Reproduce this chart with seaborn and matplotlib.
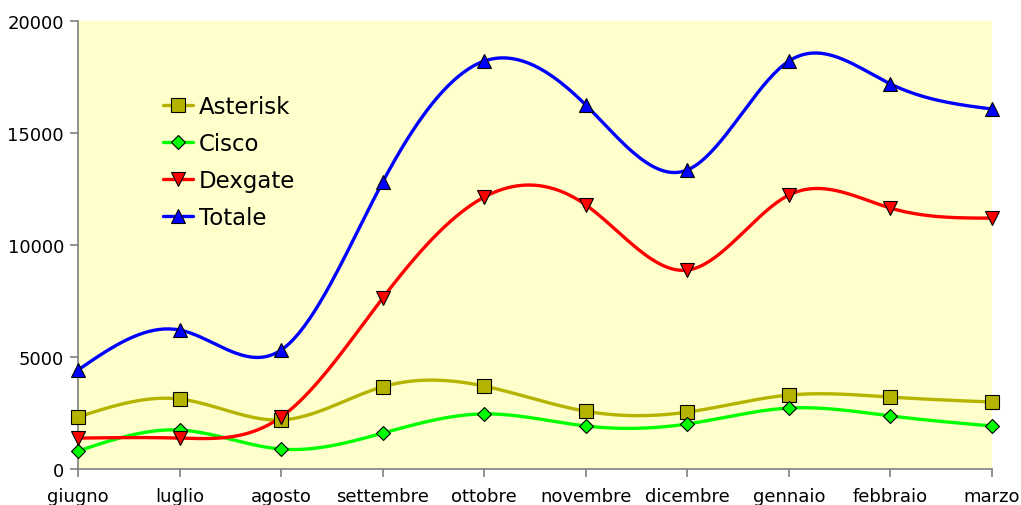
import numpy as np
import pandas as pd
import matplotlib
matplotlib.use("Agg")
import matplotlib.pyplot as plt
from matplotlib.lines import Line2D
import seaborn as sns

months = ["giugno", "luglio", "agosto", "settembre", "ottobre",
          "novembre", "dicembre", "gennaio", "febbraio", "marzo"]
asterisk = [2320, 3125, 2190, 3670, 3700, 2580, 2540, 3300, 3210, 2990]
cisco = [800, 1740, 890, 1600, 2460, 1920, 2010, 2720, 2370, 1920]
dexgate = [1380, 1380, 2320, 7630, 12140, 11790, 8880, 12230, 11650, 11200]
totale = [4420, 6205, 5310, 12810, 18210, 16250, 13350, 18210, 17190, 16070]
yticks = [0, 5000, 10000, 15000, 20000]

series = [
    ("Asterisk", asterisk, "#B4B400", "s", 9.5),
    ("Cisco", cisco, "#00FF00", "D", 7.5),
    ("Dexgate", dexgate, "#FF0000", "v", 10),
    ("Totale", totale, "#0000FF", "^", 10),
]


def smooth(xs, ys, n=40):
    """Natural cubic spline through the points (for drawing the line only)."""
    x = np.asarray(xs, float)
    y = np.asarray(ys, float)
    m = len(x)
    h = np.diff(x)
    A = np.zeros((m, m))
    b = np.zeros(m)
    A[0, 0] = 1.0
    A[-1, -1] = 1.0
    for i in range(1, m - 1):
        A[i, i - 1] = h[i - 1]
        A[i, i] = 2 * (h[i - 1] + h[i])
        A[i, i + 1] = h[i]
        b[i] = 6 * ((y[i + 1] - y[i]) / h[i] - (y[i] - y[i - 1]) / h[i - 1])
    M = np.linalg.solve(A, b)
    xo, yo = [], []
    for i in range(m - 1):
        t = np.linspace(x[i], x[i + 1], n)
        if i > 0:
            t = t[1:]
        a = x[i + 1] - t
        c = t - x[i]
        s = (M[i] * a ** 3 / (6 * h[i]) + M[i + 1] * c ** 3 / (6 * h[i])
             + (y[i] / h[i] - M[i] * h[i] / 6) * a
             + (y[i + 1] / h[i] - M[i + 1] * h[i] / 6) * c)
        xo.append(t)
        yo.append(s)
    return np.concatenate(xo), np.concatenate(yo)


sns.set_style("white")
plt.rcParams["font.family"] = ["DejaVu Sans"]

fig = plt.figure(figsize=(10.21, 5.06), dpi=100)
ax = fig.add_axes([78 / 1021, 36 / 506, (992 - 78) / 1021, (470 - 22) / 506])
ax.set_facecolor("#FFFFCC")

xi = np.arange(len(months))
handles = []
for name, vals, color, marker, ms in series:
    sx, sy = smooth(xi, vals)
    df = pd.DataFrame({"x": sx, "y": sy})
    sns.lineplot(data=df, x="x", y="y", ax=ax, color=color, lw=2.4,
                 sort=False, estimator=None, zorder=2)
    ax.plot(xi, vals, linestyle="none", marker=marker, markersize=ms,
            markerfacecolor=color, markeredgecolor="black",
            markeredgewidth=0.8, zorder=3, clip_on=False)
    handles.append(Line2D([0], [0], color=color, lw=2.4, marker=marker,
                          markersize=ms, markerfacecolor=color,
                          markeredgecolor="black", markeredgewidth=0.8))

ax.set_xlim(0, len(months) - 1)
ax.set_ylim(0, 20000)
ax.set_xticks(xi)
ax.set_xticklabels(months)
ax.set_yticks(yticks)
ax.set_yticklabels([str(v) for v in yticks])
ax.set_xlabel("")
ax.set_ylabel("")

for s in ["top", "right"]:
    ax.spines[s].set_visible(False)
for s in ["left", "bottom"]:
    ax.spines[s].set_color("#808080")
    ax.spines[s].set_linewidth(1.2)
ax.tick_params(axis="both", direction="out", length=6, width=1.2,
               color="#808080", labelsize=13, labelcolor="black")
ax.tick_params(axis="x", pad=7, bottom=True)
ax.tick_params(axis="y", pad=4, left=True)

leg = ax.legend(handles, [s[0] for s in series], loc="upper left",
                bbox_to_anchor=(152 / 1021, 1 - 85 / 506),
                bbox_transform=fig.transFigure, frameon=False,
                fontsize=16.5, handlelength=1.31, handletextpad=0.25,
                labelspacing=0.6, borderpad=0)
for txt in leg.get_texts():
    txt.set_color("black")

fig.savefig("out.png", dpi=100)
